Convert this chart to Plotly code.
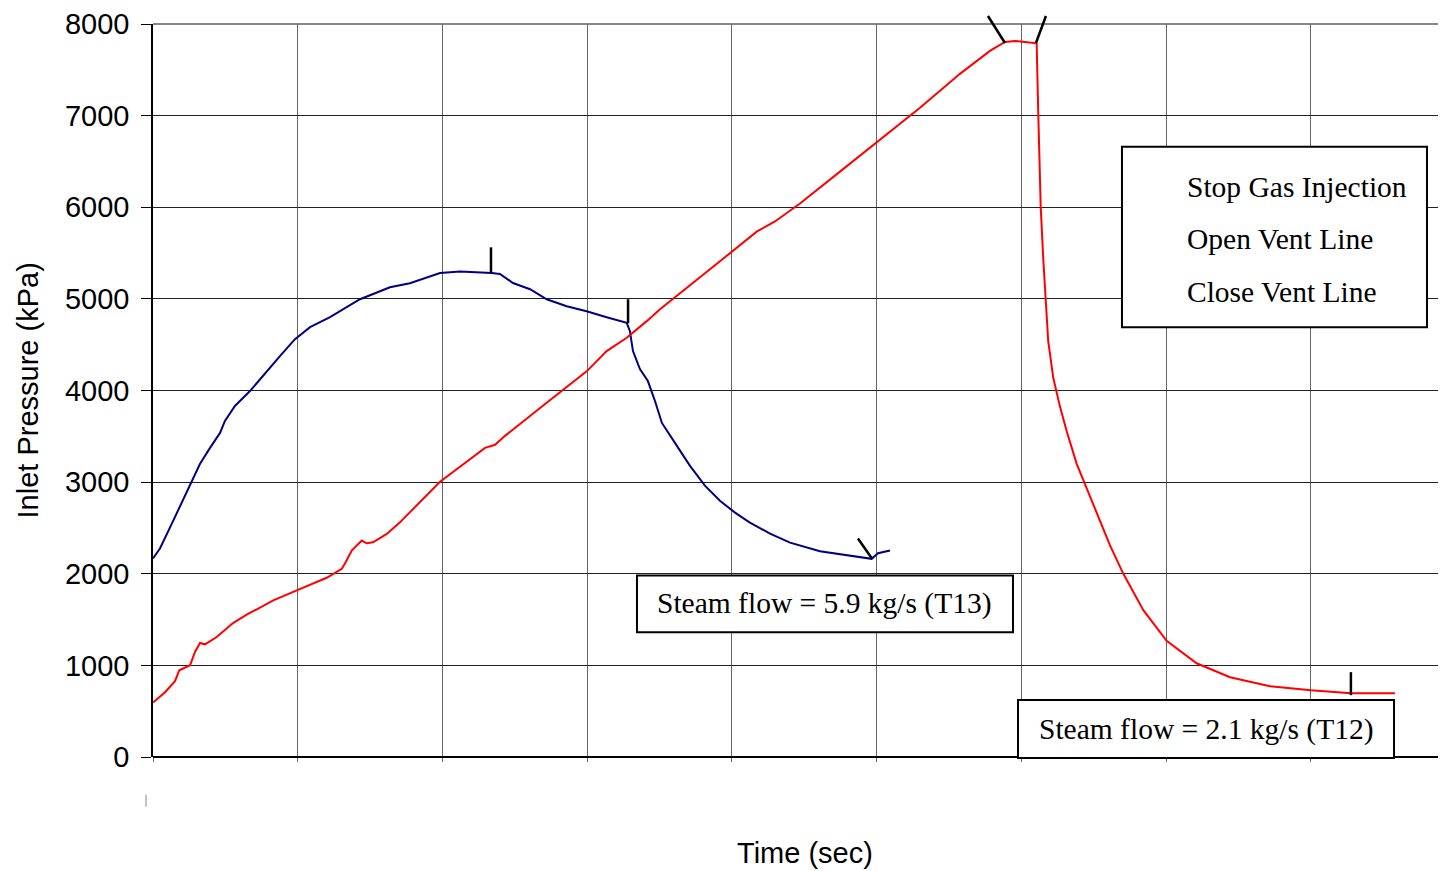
import plotly.graph_objects as go

# ---- data ----
red_time = [0, 8.3, 15.2, 18.2, 25.6, 29.0, 32.5, 35.9, 44.0, 55.3, 64.7, 83.1, 99.3, 120.0,
            130.4, 132.6, 137.3, 144.2, 147.6, 152.0, 161.5, 170.6, 198.3, 219.0, 229.4, 236.3,
            243.2, 267.4, 299.8, 313.4, 327.3, 341.1, 350.3, 377.9, 400.0, 417.3, 429.7, 447.0,
            474.6, 500.2, 529.9, 557.5, 578.2, 588.6, 595.5, 602.4, 610.5, 611.6, 613.3, 615.1,
            616.9, 618.5, 622.0, 626.6, 631.2, 638.1, 645.0, 651.9, 661.1, 670.3, 684.2, 700.3,
            721.0, 744.1, 771.7, 800.0, 827.6, 858.0]
red_pressure = [595, 707, 827, 947, 1001, 1146, 1244, 1230, 1309, 1462, 1553, 1709, 1818, 1956,
                2054, 2112, 2253, 2362, 2332, 2343, 2435, 2561, 3004, 3254, 3374, 3407,
                3505, 3809, 4212, 4430, 4575, 4757, 4887, 5235, 5518, 5736, 5845, 6041,
                6389, 6715, 7086, 7456, 7706, 7804, 7815, 7804, 7789, 7023, 6001, 5424,
                4890, 4535, 4136, 3824, 3557, 3202, 2935, 2669, 2313, 2002, 1602, 1268,
                1023, 871, 773, 729, 697, 697]

blue_time = [0, 4.8, 11.7, 18.7, 25.6, 32.5, 39.4, 46.3, 49.7, 56.6, 67.0, 77.4, 87.7, 98.1,
             108.5, 122.3, 132.6, 143.0, 153.4, 163.7, 177.5, 187.9, 198.3, 212.1, 225.9, 234.0,
             239.7, 248.7, 260.5, 272.0, 285.8, 299.6, 313.4, 327.3, 329.5, 331.6, 336.4, 341.9,
             346.8, 351.6, 360.6, 371.0, 381.3, 391.7, 402.1, 412.4, 426.3, 440.1, 460.8, 481.5,
             496.5, 500.9, 509.2]
blue_pressure = [2166, 2275, 2503, 2743, 2982, 3200, 3374, 3537, 3668, 3831, 3994, 4190, 4375, 4560,
                 4691, 4800, 4898, 4996, 5061, 5126, 5170, 5224, 5282, 5300, 5290, 5282,
                 5271, 5173, 5105, 4996, 4920, 4865, 4800, 4738, 4647, 4430, 4234, 4103,
                 3886, 3646, 3428, 3178, 2961, 2797, 2667, 2558, 2438, 2340, 2245, 2199,
                 2163, 2224, 2253]

y_ticks = [0, 1000, 2000, 3000, 4000, 5000, 6000, 7000, 8000]
x_grid = [0, 100, 200, 300, 400, 500, 600, 700, 800]

# event markers: time, pressure on the curve
event_time = [233.5, 328.2, 496.7, 588.6, 610.0, 827.6]
event_pressure = [5279, 4734, 2166, 7793, 7793, 675]
# tick-mark direction (pixels): dx, dy (up positive)
event_dx = [0, 0, -14, -17, 10, 0]
event_dy = [26, 24, 20, 27, 27, 23]

legend_lines = ["Stop Gas Injection", "Open Vent Line", "Close Vent Line"]
box_labels = ["Steam flow = 5.9 kg/s (T13)", "Steam flow = 2.1 kg/s (T12)"]

Y_MAX = 8000
X_MAX = 893.3

SANS = "Liberation Sans, Arial, sans-serif"
SERIF = "Liberation Serif, Times New Roman, serif"

fig = go.Figure()
fig.add_trace(go.Scatter(x=blue_time, y=blue_pressure, mode="lines",
                         line=dict(color="#000080", width=2), showlegend=False, hoverinfo="skip"))
fig.add_trace(go.Scatter(x=red_time, y=red_pressure, mode="lines",
                         line=dict(color="#FF0000", width=2), showlegend=False, hoverinfo="skip"))

shapes = []
# top border line at the 8000 level (gray, as in the reference)
shapes.append(dict(type="line", xref="paper", yref="paper", x0=0, x1=1, y0=1, y1=1,
                   line=dict(color="#888", width=2), layer="below"))
for t, p, dx, dy in zip(event_time, event_pressure, event_dx, event_dy):
    shapes.append(dict(type="line", xref="x", yref="paper",
                       xsizemode="pixel", xanchor=t, x0=0, x1=dx,
                       ysizemode="pixel", yanchor=p / Y_MAX, y0=0, y1=dy,
                       line=dict(color="black", width=2.5), layer="above"))

# boxes
box_style = dict(type="rect", xref="paper", yref="paper", fillcolor="white",
                 line=dict(color="black", width=2), layer="above")
shapes.append(dict(box_style, x0=0.3743, x1=0.6651, y0=0.1701, y1=0.2476))
shapes.append(dict(box_style, x0=0.669, x1=0.9598, y0=-0.0014, y1=0.0776))
shapes.append(dict(box_style, x0=0.7494, x1=0.9853, y0=0.5864, y1=0.8327))
# small stray mark below the axis
shapes.append(dict(type="line", xref="paper", yref="paper", x0=-0.0054, x1=-0.0054,
                   y0=-0.0517, y1=-0.068, line=dict(color="#888", width=1)))

annotations = [
    dict(text=box_labels[0], xref="paper", yref="paper", x=0.5197, y=0.2088,
         xanchor="center", yanchor="middle", showarrow=False,
         font=dict(family=SERIF, size=29.5, color="black")),
    dict(text=box_labels[1], xref="paper", yref="paper", x=0.8144, y=0.0381,
         xanchor="center", yanchor="middle", showarrow=False,
         font=dict(family=SERIF, size=29.5, color="black")),
    dict(text="Inlet Pressure (kPa)", xref="paper", yref="paper", x=-0.0967, y=0.5,
         xanchor="center", yanchor="middle", textangle=-90, showarrow=False,
         font=dict(family=SANS, size=29, color="black")),
    dict(text="Time (sec)", xref="paper", yref="paper", x=0.5043, y=-0.1306,
         xanchor="center", yanchor="middle", showarrow=False,
         font=dict(family=SANS, size=29, color="black")),
]
for txt, yy in zip(legend_lines, [0.7782, 0.7061, 0.6340]):
    annotations.append(dict(text=txt, xref="paper", yref="paper", x=0.7981, y=yy,
                            xanchor="left", yanchor="middle", showarrow=False,
                            font=dict(family=SERIF, size=29.5, color="black")))

# the page body has an 8px margin, so the figure is sized/offset to compensate
fig.update_layout(
    width=1438, height=863,
    margin=dict(l=145, r=0, t=14, b=114),
    paper_bgcolor="white", plot_bgcolor="white",
    shapes=shapes, annotations=annotations,
    xaxis=dict(range=[0, X_MAX], tickvals=x_grid, showticklabels=False,
               showgrid=True, gridcolor="#666", gridwidth=1,
               ticks="outside", ticklen=4, tickcolor="#666",
               showline=False, zeroline=False, fixedrange=True),
    yaxis=dict(range=[0, Y_MAX], tickvals=y_ticks, ticktext=[str(v) for v in y_ticks],
               showgrid=True, gridcolor="#222", gridwidth=1,
               ticks="outside", ticklen=10, tickcolor="black", ticklabelstandoff=6,
               ticklabeloverflow="allow",
               showline=True, linecolor="black", linewidth=1.5,
               zeroline=True, zerolinecolor="black", zerolinewidth=2,
               tickfont=dict(family=SANS, size=29, color="black"), fixedrange=True),
)

fig.write_html("out.html", config={"displayModeBar": False})
